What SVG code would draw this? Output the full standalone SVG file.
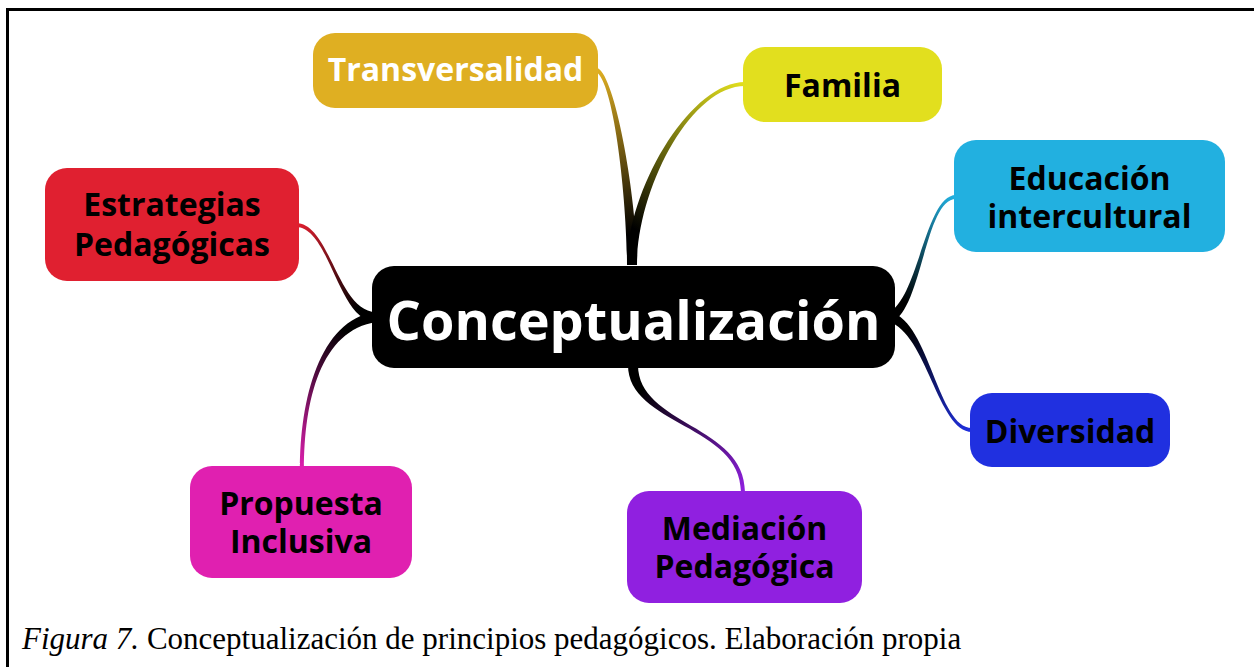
<svg xmlns="http://www.w3.org/2000/svg" width="1254" height="667" viewBox="0 0 1254 667">
<style>
.lbl{font-family:"Open Sans","Noto Sans","DejaVu Sans",sans-serif;font-weight:bold;font-size:32px;text-anchor:middle;fill:#000}
.w{fill:#fff}
.cap{font-family:"Liberation Serif","Times New Roman",serif;font-size:31px;fill:#000}
</style>
<defs>
<linearGradient id="gT" gradientUnits="userSpaceOnUse" x1="632" y1="265" x2="597" y2="70"><stop offset="0" stop-color="#000"/><stop offset="0.15" stop-color="#000"/><stop offset="1" stop-color="#dfaf22"/></linearGradient>
<linearGradient id="gF" gradientUnits="userSpaceOnUse" x1="632" y1="265" x2="745" y2="84"><stop offset="0" stop-color="#000"/><stop offset="0.15" stop-color="#000"/><stop offset="1" stop-color="#e2df1e"/></linearGradient>
<linearGradient id="gE" gradientUnits="userSpaceOnUse" x1="376" y1="317" x2="296" y2="225"><stop offset="0" stop-color="#000"/><stop offset="0.15" stop-color="#000"/><stop offset="1" stop-color="#e02030"/></linearGradient>
<linearGradient id="gP" gradientUnits="userSpaceOnUse" x1="376" y1="317" x2="302" y2="470"><stop offset="0" stop-color="#000"/><stop offset="0.15" stop-color="#000"/><stop offset="1" stop-color="#e020b0"/></linearGradient>
<linearGradient id="gI" gradientUnits="userSpaceOnUse" x1="890" y1="317" x2="956" y2="197"><stop offset="0" stop-color="#000"/><stop offset="0.15" stop-color="#000"/><stop offset="1" stop-color="#22b0e0"/></linearGradient>
<linearGradient id="gD" gradientUnits="userSpaceOnUse" x1="890" y1="317" x2="972" y2="430"><stop offset="0" stop-color="#000"/><stop offset="0.15" stop-color="#000"/><stop offset="1" stop-color="#2030e0"/></linearGradient>
<linearGradient id="gM" gradientUnits="userSpaceOnUse" x1="633" y1="365" x2="743" y2="492"><stop offset="0" stop-color="#000"/><stop offset="0.15" stop-color="#000"/><stop offset="1" stop-color="#9020e0"/></linearGradient>
</defs>
<rect x="0" y="0" width="1254" height="667" fill="#fff"/>
<path d="M7.5,667 V9.5 H1254" fill="none" stroke="#000" stroke-width="3"/>
<g id="connectors">
<path d="M637,265 C637,200 616,78.25 598,68.25 L596,71.75 C614,81.75 627,200 627,265 Z" fill="url(#gT)"/>
<path d="M637,265 C637,190 690,86 745,86 L745,82 C690,82 627,190 627,265 Z" fill="url(#gF)"/>
<path d="M376,312 C338,312 330,223 296,223 L296,227 C330,227 338,322 376,322 Z" fill="url(#gE)"/>
<path d="M375.3,312.05 C319.3,320.05 300,400 300,470 L304,470 C304,400 320.7,329.95 376.7,321.95 Z" fill="url(#gP)"/>
<path d="M891.86,321.64 C921.86,309.64 925,199 956,199 L956,195 C925,195 918.14,300.36 888.14,312.36 Z" fill="url(#gI)"/>
<path d="M888.61,321.8 C926.61,332.8 938,432 972,432 L972,428 C938,428 929.39,323.2 891.39,312.2 Z" fill="url(#gD)"/>
<path d="M628,365 C628,425 741,425 741,492 L745,492 C745,425 638,425 638,365 Z" fill="url(#gM)"/>
</g>
<g id="center">
<rect x="372" y="266" width="523" height="102" rx="22" fill="#000"/>
<text class="lbl w" x="633.5" y="340" style="font-size:54px">Conceptualización</text>
</g>
<g id="transversalidad">
<rect x="313" y="33" width="285" height="75" rx="22" fill="#dfaf22"/>
<text class="lbl w" x="455.5" y="81">Transversalidad</text>
</g>
<g id="familia">
<rect x="743" y="47" width="199" height="75" rx="22" fill="#e2df1e"/>
<text class="lbl" x="842.5" y="97">Familia</text>
</g>
<g id="estrategias">
<rect x="45" y="168" width="254" height="113" rx="22" fill="#e02030"/>
<text class="lbl" x="172" y="216">Estrategias</text>
<text class="lbl" x="172" y="256">Pedagógicas</text>
</g>
<g id="educacion">
<rect x="954" y="140" width="271" height="112" rx="22" fill="#22b0e0"/>
<text class="lbl" x="1089.5" y="190">Educación</text>
<text class="lbl" x="1089.5" y="228">intercultural</text>
</g>
<g id="diversidad">
<rect x="970" y="393" width="200" height="74" rx="22" fill="#2030e0"/>
<text class="lbl" x="1070" y="443">Diversidad</text>
</g>
<g id="mediacion">
<rect x="627" y="491" width="235" height="112" rx="22" fill="#9020e0"/>
<text class="lbl" x="744.5" y="540">Mediación</text>
<text class="lbl" x="744.5" y="578">Pedagógica</text>
</g>
<g id="propuesta">
<rect x="190" y="466" width="222" height="112" rx="22" fill="#e020b0"/>
<text class="lbl" x="301" y="515">Propuesta</text>
<text class="lbl" x="301" y="553">Inclusiva</text>
</g>
<text class="cap" x="22" y="649"><tspan font-style="italic">Figura 7.</tspan> Conceptualización de principios pedagógicos. Elaboración propia</text>
</svg>
